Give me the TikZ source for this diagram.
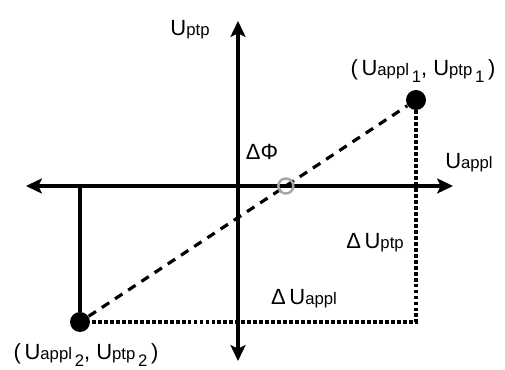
\documentclass[tikz,border=0pt]{standalone}
\usepackage{fontspec}
\setmainfont{Liberation Sans}
\usetikzlibrary{arrows.meta,positioning,calc}
\newcommand{\smallsz}{\fontsize{9.5}{10}\selectfont}
\newcommand{\uval}[1]{U{\smallsz #1}}
\newcommand{\idx}[1]{\raisebox{-0.6ex}{\smallsz\,#1}}

\begin{document}
\begin{tikzpicture}[
    axis/.style={line width=2.3pt, {Stealth[length=9pt,width=8.5pt,inset=2pt]}-{Stealth[length=9pt,width=8.5pt,inset=2pt]}},
    dot/.style={circle, fill=black, inner sep=0pt, minimum size=0.4cm},
    phase/.style={circle, draw=gray!70, line width=1.4pt, inner sep=0pt, minimum size=0.3cm},
    txt/.style={font=\fontsize{12.5}{14}\selectfont, inner sep=1pt},
    slope/.style={line width=1.8pt, dash pattern=on 5pt off 4pt},
    proj/.style={line width=2.2pt, dash pattern=on 2.2pt off 1.2pt},
    lead/.style={line width=1.8pt}
]
\useasboundingbox (0,0) rectangle (10.1,-7.4);

% Axes
\coordinate (o) at (4.76,-3.72);
\coordinate (xl) at (0.52,-3.72);
\coordinate (xr) at (9.06,-3.72);
\coordinate (yt) at (4.76,-0.42);
\coordinate (yb) at (4.76,-7.22);
\draw[axis] (xl) -- (xr);
\draw[axis] (yb) -- (yt);

% Operating points
\node[dot] (p1) at (8.32,-2.0) {};
\node[dot] (p2) at (1.6,-6.44) {};
\coordinate (c) at (p1 |- p2);

% Slope line and phase crossing
\draw[slope] (p2) -- (p1);
\node[phase] (phi) at ($(p2)!{(6.44-3.72)/(6.44-2.0)}!(p1)$) {};

% Projections
\draw[lead] (p2) -- (p2 |- o);
\draw[proj] (p1) -- (c) -- (p2);

% Labels
\node[txt] (lyaxis) at (3.8,-0.6) {\uval{ptp}};
\node[txt] (lxaxis) at (9.38,-3.26) {\uval{appl}};
\node[txt] (lp1) at (8.46,-1.42) {(\,\uval{appl}\idx{1}, \uval{ptp}\idx{1}\,)};
\node[txt] (lp2) at (1.72,-7.1) {(\,\uval{appl}\idx{2}, \uval{ptp}\idx{2}\,)};
\node[txt] (lphi) at (5.24,-3.04) {ΔΦ};
\node[txt] (ldptp) at (7.5,-4.86) {Δ\,\uval{ptp}};
\node[txt] (ldappl) at (6.08,-5.98) {Δ\,\uval{appl}};

\end{tikzpicture}
\end{document}
